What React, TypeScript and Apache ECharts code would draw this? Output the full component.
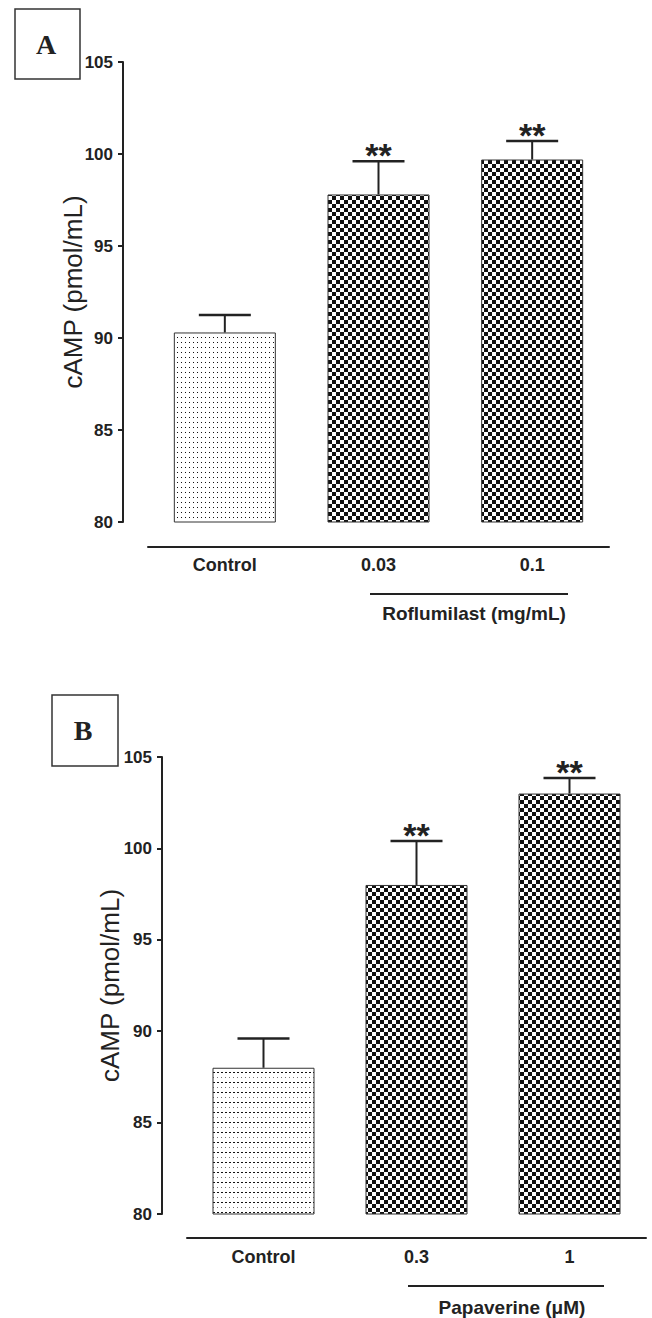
import React, { useEffect, useRef } from "react";
import * as echarts from "echarts";

const categoriesA = ["Control", "0.03", "0.1"];
const meanA = [90.3, 97.8, 99.7];
const semA = [0.95, 1.8, 1.0];
const starsA = ["", "**", "**"];
const groupLabelA = "Roflumilast (mg/mL)";

const categoriesB = ["Control", "0.3", "1"];
const meanB = [88.0, 98.0, 103.0];
const semB = [1.6, 2.4, 0.85];
const starsB = ["", "**", "**"];
const groupLabelB = "Papaverine (\u03bcM)";

const yTicks = { min: 80, max: 105, interval: 5 };
const yName = "cAMP (pmol/mL)";

const SANS = "'Liberation Sans', Arial, Helvetica, sans-serif";
const SERIF = "'Liberation Serif', 'Times New Roman', serif";
const INK = "#222";

function makeTile(w: number, h: number, draw: (ctx: CanvasRenderingContext2D) => void) {
  const c = document.createElement("canvas");
  c.width = w;
  c.height = h;
  const ctx = c.getContext("2d")!;
  ctx.fillStyle = "#fff";
  ctx.fillRect(0, 0, w, h);
  draw(ctx);
  return c;
}

export default function App() {
  const ref = useRef<HTMLDivElement>(null);
  useEffect(() => {
    if (!ref.current) return;
    const chart = echarts.init(ref.current, undefined, { renderer: "svg" });

    const dotsA = makeTile(4, 5, (ctx) => {
      ctx.fillStyle = "#111";
      ctx.fillRect(1, 2, 1, 1);
    });
    const dotsB = makeTile(4, 10, (ctx) => {
      ctx.fillStyle = "#111";
      ctx.fillRect(1, 2, 2, 1);
      ctx.fillStyle = "#777";
      ctx.fillRect(1, 7, 1, 1);
    });
    const checker = makeTile(8, 8, (ctx) => {
      ctx.fillStyle = "#111";
      ctx.fillRect(0, 0, 4, 4);
      ctx.fillRect(4, 4, 4, 4);
    });

    const pat = (img: HTMLCanvasElement) => ({ image: img, repeat: "repeat" as const });

    const barData = (means: number[], ctrlTile: HTMLCanvasElement) =>
      means.map((v, i) => ({
        value: v,
        itemStyle: {
          color: pat(i === 0 ? ctrlTile : checker),
          borderColor: "#333",
          borderWidth: 1,
        },
      }));

    const errData = (means: number[], sems: number[], stars: string[]) =>
      means.map((v, i) => [i, v, v + sems[i], stars[i]]);

    const renderErr = (data: any[][]) => (params: any, api: any) => {
      const i = api.value(0);
      const top = api.coord([i, api.value(1)]);
      const cap = api.coord([i, api.value(2)]);
      const star = data[params.dataIndex][3];
      const half = 26;
      const children: any[] = [
        {
          type: "line",
          shape: { x1: top[0], y1: top[1], x2: cap[0], y2: cap[1] },
          style: { stroke: INK, lineWidth: 2 },
        },
        {
          type: "line",
          shape: { x1: cap[0] - half, y1: cap[1], x2: cap[0] + half, y2: cap[1] },
          style: { stroke: INK, lineWidth: 2.5 },
        },
      ];
      if (star) {
        children.push({
          type: "text",
          x: cap[0],
          y: cap[1] - 6,
          style: {
            text: star,
            fill: INK,
            font: `bold 34px ${SANS}`,
            align: "center",
            verticalAlign: "middle",
          },
        });
      }
      return { type: "group", children };
    };

    const errA = errData(meanA, semA, starsA);
    const errB = errData(meanB, semB, starsB);

    const xAxisCommon = (cats: string[], gridIndex: number, offset: number, margin: number) => ({
      type: "category" as const,
      gridIndex,
      data: cats,
      offset,
      axisLine: { show: true, lineStyle: { color: INK, width: 2 } },
      axisTick: { show: false },
      axisLabel: {
        color: INK,
        fontWeight: "bold" as const,
        fontSize: 18,
        fontFamily: SANS,
        margin,
      },
    });

    const yAxisCommon = (gridIndex: number, nameGap: number) => ({
      type: "value" as const,
      gridIndex,
      min: yTicks.min,
      max: yTicks.max,
      interval: yTicks.interval,
      offset: 25,
      name: yName,
      nameLocation: "middle" as const,
      nameGap,
      nameMoveOverlap: false,
      nameTextStyle: { color: INK, fontSize: 26, fontFamily: SANS },
      splitLine: { show: false },
      axisLine: { show: true, lineStyle: { color: INK, width: 2 } },
      axisTick: { show: true, length: 5, lineStyle: { color: INK, width: 2 } },
      axisLabel: {
        color: INK,
        fontWeight: "bold" as const,
        fontSize: 17,
        fontFamily: SANS,
        margin: 10,
      },
    });

    chart.setOption({
      animation: false,
      backgroundColor: "#fff",
      grid: [
        { left: 148, top: 62, width: 461, height: 460 },
        { left: 187, top: 757, width: 459, height: 457 },
      ],
      xAxis: [xAxisCommon(categoriesA, 0, 25, 9), xAxisCommon(categoriesB, 1, 24, 10)],
      yAxis: [yAxisCommon(0, 37), yAxisCommon(1, 39)],
      series: [
        {
          type: "bar",
          xAxisIndex: 0,
          yAxisIndex: 0,
          barWidth: 102,
          data: barData(meanA, dotsA),
        },
        {
          type: "custom",
          xAxisIndex: 0,
          yAxisIndex: 0,
          data: errA,
          renderItem: renderErr(errA),
          z: 5,
        },
        {
          type: "bar",
          xAxisIndex: 1,
          yAxisIndex: 1,
          barWidth: 102,
          data: barData(meanB, dotsB),
        },
        {
          type: "custom",
          xAxisIndex: 1,
          yAxisIndex: 1,
          data: errB,
          renderItem: renderErr(errB),
          z: 5,
        },
      ],
      graphic: [
        {
          type: "rect",
          shape: { x: 15, y: 9, width: 65, height: 70 },
          style: { fill: "none", stroke: "#333", lineWidth: 1.5 },
        },
        {
          type: "text",
          x: 46,
          y: 44,
          style: { text: "A", font: `bold 28px ${SERIF}`, fill: INK, align: "center", verticalAlign: "middle" },
        },
        {
          type: "rect",
          shape: { x: 52, y: 695, width: 66, height: 71 },
          style: { fill: "none", stroke: "#333", lineWidth: 1.5 },
        },
        {
          type: "text",
          x: 83,
          y: 730,
          style: { text: "B", font: `bold 28px ${SERIF}`, fill: INK, align: "center", verticalAlign: "middle" },
        },
        {
          type: "line",
          shape: { x1: 370, y1: 594, x2: 568, y2: 594 },
          style: { stroke: INK, lineWidth: 2 },
        },
        {
          type: "text",
          x: 474,
          y: 613,
          style: { text: groupLabelA, font: `bold 19px ${SANS}`, fill: INK, align: "center", verticalAlign: "middle" },
        },
        {
          type: "line",
          shape: { x1: 408, y1: 1286, x2: 604, y2: 1286 },
          style: { stroke: INK, lineWidth: 2 },
        },
        {
          type: "text",
          x: 512,
          y: 1307,
          style: { text: groupLabelB, font: `bold 19px ${SANS}`, fill: INK, align: "center", verticalAlign: "middle" },
        },
      ],
    });
    return () => chart.dispose();
  }, []);
  return (
    <div
      ref={ref}
      style={{ position: "absolute", left: 0, top: 0, width: 652, height: 1318 }}
    />
  );
}
